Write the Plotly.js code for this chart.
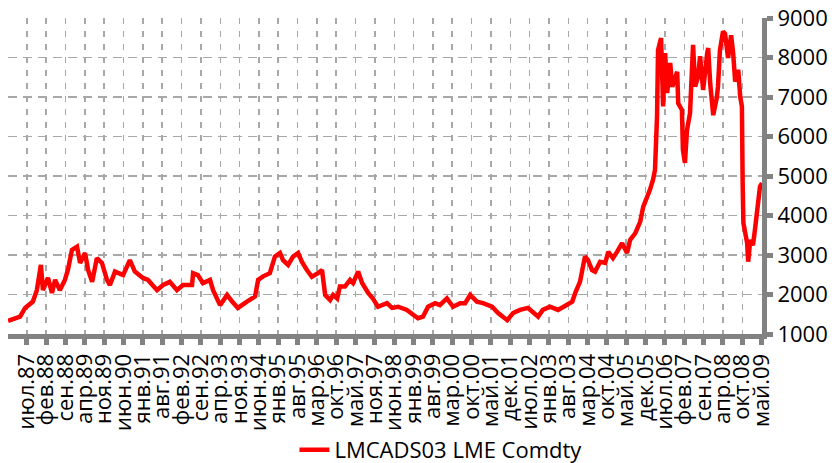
<!DOCTYPE html>
<html>
<head>
<meta charset="utf-8">
<script src="https://cdn.plot.ly/plotly-3.0.1.min.js"></script>
<style>html,body{margin:0;padding:0;background:#fff;}#chart{width:832px;height:463px;}</style>
</head>
<body>
<div id="chart"></div>
<script>
// LMCADS03 LME Comdty (copper, USD/t)
const dates = [
'1987-01-02','1987-05-12','1987-07-06','1987-09-28','1987-11-10','1987-12-24',
'1988-01-15','1988-03-10','1988-04-22','1988-05-26','1988-07-16','1988-09-09','1988-10-12','1988-11-25',
'1989-01-19','1989-02-21','1989-04-16','1989-05-19','1989-07-02','1989-08-22','1989-10-16','1989-12-10',
'1990-01-11','1990-03-07','1990-06-03','1990-08-15','1990-10-09',
'1991-01-04','1991-02-28','1991-06-06','1991-08-11','1991-10-23',
'1992-01-08','1992-03-13','1992-06-20','1992-07-01','1992-08-22','1992-10-16',
'1993-01-01','1993-02-03','1993-04-20','1993-07-05','1993-08-29','1993-10-30',
'1994-02-06','1994-05-05','1994-06-07','1994-07-31','1994-10-12','1994-12-06',
'1995-01-30','1995-03-04','1995-04-28','1995-06-21','1995-08-15','1995-09-24','1995-11-18',
'1996-01-11','1996-03-17','1996-04-30','1996-06-03','1996-07-27','1996-08-29','1996-10-12','1996-11-10',
'1997-01-04','1997-02-28','1997-04-02','1997-05-27','1997-07-09','1997-09-13','1997-11-03','1997-12-28',
'1998-04-05','1998-05-30','1998-08-04','1998-11-07',
'1999-01-11','1999-03-07','1999-05-01','1999-06-25','1999-09-09','1999-10-31',
'2000-01-15','2000-03-22','2000-06-07','2000-07-31','2000-09-24','2000-12-06',
'2001-02-10','2001-05-19','2001-07-24','2001-10-31',
'2002-01-02','2002-03-18','2002-06-14','2002-08-08','2002-10-01','2002-11-21',
'2003-02-06','2003-05-05','2003-08-12','2003-10-06','2003-11-08','2003-12-29',
'2004-02-21','2004-03-25','2004-05-08','2004-06-10','2004-08-04','2004-09-28','2004-10-31','2004-12-21',
'2005-02-03','2005-03-30','2005-05-23','2005-06-25','2005-08-19','2005-10-12','2005-11-14','2005-12-28',
'2006-01-26','2006-02-28','2006-03-22','2006-04-13','2006-04-24','2006-05-27','2006-06-18','2006-07-10',
'2006-08-01','2006-09-03','2006-09-25','2006-11-18','2006-11-29',
'2007-01-08','2007-01-19','2007-02-10','2007-03-04','2007-04-06','2007-04-28','2007-05-09','2007-05-31',
'2007-07-02','2007-07-24','2007-08-26','2007-10-09','2007-10-20','2007-11-11','2007-12-03','2007-12-14',
'2008-01-23','2008-02-03','2008-02-25','2008-03-29','2008-04-20','2008-05-23','2008-06-25','2008-07-17',
'2008-08-08','2008-09-10','2008-10-02','2008-10-20','2008-10-28','2008-11-05','2008-12-16','2008-12-27',
'2009-01-19','2009-02-17','2009-03-10','2009-04-12','2009-05-04','2009-05-26'
];
const prices = [
1330,1440,1660,1820,2110,2750,
2110,2420,2040,2370,2110,2370,2620,3130,
3210,2800,3050,2620,2320,2920,2800,2370,
2240,2580,2490,2870,2580,
2420,2370,2110,2240,2320,
2110,2240,2240,2540,2490,2290,
2370,2110,1730,1990,1820,1660,
1820,1950,2370,2460,2540,2960,
3050,2870,2750,2960,3050,2830,2620,
2450,2540,2620,1990,1860,1990,1900,2200,
2200,2370,2290,2580,2290,2040,1900,1690,
1780,1660,1690,1610,
1480,1400,1440,1690,1780,1730,
1900,1690,1780,1780,1990,1820,
1780,1690,1530,1350,
1530,1610,1660,1530,1440,1610,
1690,1610,1730,1820,2040,2320,
2960,2870,2620,2580,2830,2800,3080,2920,
3080,3300,3050,3380,3550,3840,4220,4470,
4650,4900,5150,6500,8190,8490,6760,8110,
7100,7860,7260,7640,6840,
6670,5660,5330,6160,6590,7990,8320,7260,
7510,8030,7180,8100,8240,7340,6760,6540,
7000,7260,8190,8660,8600,7990,8560,8110,
7390,7690,7000,6760,4820,3810,3300,2830,
3380,3250,3630,4320,4730,4820
];
const tickLabels = ['июл.87','фев.88','сен.88','апр.89','ноя.89','июн.90','янв.91','авг.91','фев.92','сен.92',
'апр.93','ноя.93','июн.94','янв.95','авг.95','мар.96','окт.96','май.97','ноя.97','июн.98',
'янв.99','авг.99','мар.00','окт.00','май.01','дек.01','июл.02','янв.03','авг.03','мар.04',
'окт.04','май.05','дек.05','июл.06','фев.07','сен.07','апр.08','окт.08','май.09'];
const seriesName = 'LMCADS03 LME Comdty';

// evenly spaced category-style ticks (about 150 trading days apart)
const tickStart = Date.UTC(1987, 6, 25);
const tickStepDays = 209.8;
const tickVals = tickLabels.map((_, i) => new Date(tickStart + i * tickStepDays * 86400000).toISOString().slice(0, 10));

const FONT = '"Open Sans", sans-serif';
const AXIS = '#828282';
const GRID = '#a8a8a8';

Plotly.newPlot('chart', [{
  type: 'scatter', mode: 'lines', x: dates, y: prices, name: seriesName,
  line: {color: '#ff0000', width: 4.5}
}], {
  width: 832, height: 463,
  margin: {l: 8, r: 70, t: 18, b: 129, autoexpand: false},
  paper_bgcolor: '#fff', plot_bgcolor: '#fff',
  font: {family: FONT, size: 22, color: '#000'},
  showlegend: true,
  legend: {orientation: 'h', xref: 'container', x: 0.53, xanchor: 'center',
           yref: 'container', y: 0.028, yanchor: 'middle',
           font: {family: FONT, size: 22, color: '#000'}},
  xaxis: {
    type: 'date', range: ['1987-01-01', '2009-05-26'], automargin: false,
    tickmode: 'array', tickvals: tickVals, ticktext: tickLabels, tickangle: -90,
    ticks: 'outside', ticklen: 6, tickwidth: 5, tickcolor: AXIS,
    showline: true, linewidth: 5, linecolor: AXIS,
    showgrid: true, gridcolor: GRID, gridwidth: 1.5, griddash: '6px,7px',
    zeroline: false, tickfont: {family: FONT, size: 22, color: '#000'}
  },
  yaxis: {
    side: 'right', range: [1000, 9000], dtick: 1000, tick0: 1000, automargin: false,
    ticks: 'outside', ticklen: 6, tickwidth: 5, tickcolor: AXIS,
    showline: true, linewidth: 5, linecolor: AXIS,
    showgrid: true, gridcolor: GRID, gridwidth: 1.5, griddash: '9px,6px',
    zeroline: false, tickfont: {family: FONT, size: 22, color: '#000'}
  }
}, {displayModeBar: false, staticPlot: true});
</script>
</body>
</html>
